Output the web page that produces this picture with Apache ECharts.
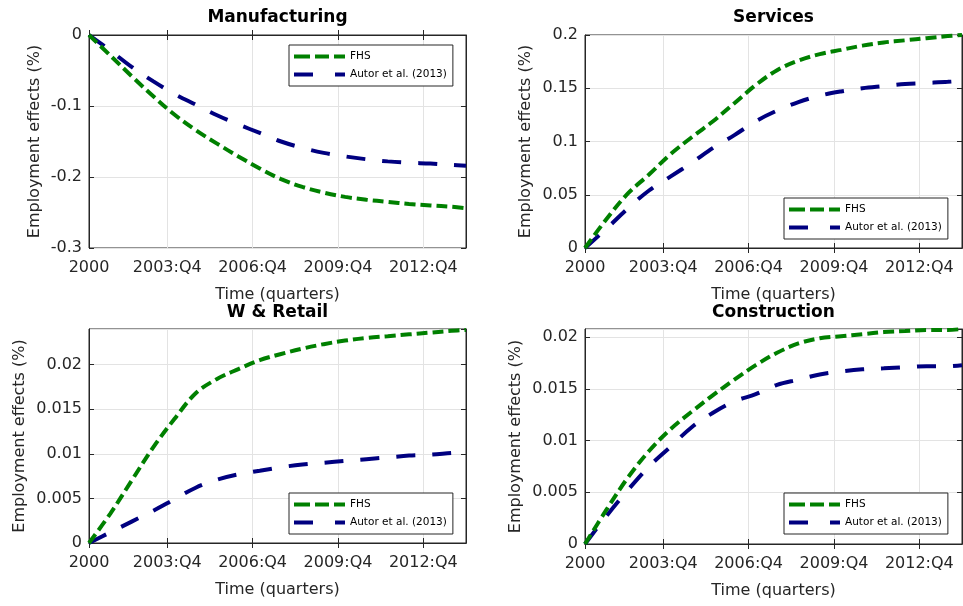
<!DOCTYPE html>
<html>
<head>
<meta charset="utf-8">
<script src="https://cdn.jsdelivr.net/npm/echarts@6/dist/echarts.min.js"></script>
<style>
html,body{margin:0;padding:0;background:#fff;}
#chart{width:963px;height:606px;}
</style>
</head>
<body>
<div id="chart"></div>
<script>
// quarter index of sampled points (0 = 2000)
const sampleQ = [0,3,6,9,12,15,18,21,24,27,30,33,36,39,42,45,48,51,53];
const nQuarters = 54;
const xTickIdx = [0,11,23,35,47];
const xTickLabels = ['2000','2003:Q4','2006:Q4','2009:Q4','2012:Q4'];
const seriesNames = ['FHS','Autor et al. (2013)'];
const panelTitles = ['Manufacturing','Services','W & Retail','Construction'];

const manuFHS   = [0,-0.029,-0.058,-0.086,-0.112,-0.134,-0.153,-0.171,-0.188,-0.203,-0.214,-0.222,-0.228,-0.232,-0.235,-0.238,-0.240,-0.242,-0.244];
const manuAutor = [0,-0.022,-0.045,-0.065,-0.083,-0.098,-0.113,-0.126,-0.138,-0.150,-0.159,-0.166,-0.171,-0.175,-0.178,-0.180,-0.181,-0.183,-0.184];
const servFHS   = [0,0.027,0.051,0.069,0.088,0.104,0.119,0.136,0.153,0.167,0.176,0.182,0.186,0.190,0.193,0.195,0.197,0.199,0.200];
const servAutor = [0,0.018,0.037,0.054,0.067,0.080,0.094,0.106,0.119,0.129,0.137,0.143,0.147,0.150,0.152,0.154,0.155,0.156,0.157];
const retFHS    = [0,0.0033,0.0070,0.0107,0.0139,0.0168,0.0184,0.0195,0.0205,0.0212,0.0218,0.0223,0.0227,0.0230,0.0232,0.0234,0.0236,0.0238,0.0239];
const retAutor  = [0,0.0012,0.0024,0.0036,0.0049,0.0062,0.0071,0.0077,0.0081,0.0085,0.0088,0.0090,0.0092,0.0094,0.0096,0.0098,0.0099,0.0101,0.0102];
const consFHS   = [0,0.0033,0.0064,0.0090,0.0111,0.0128,0.0144,0.0159,0.0173,0.0185,0.0194,0.0199,0.0201,0.0203,0.0205,0.0206,0.0207,0.0207,0.0208];
const consAutor = [0,0.0027,0.0052,0.0075,0.0094,0.0113,0.0127,0.0138,0.0145,0.0154,0.0159,0.0164,0.0167,0.0169,0.0170,0.0171,0.0172,0.0172,0.0173];

const yMin = [-0.3, 0, 0, 0];
const yMax = [0, 0.2, 0.024, 0.0208];
const yInterval = [0.1, 0.05, 0.005, 0.005];
const panelData = [[manuFHS, manuAutor],[servFHS, servAutor],[retFHS, retAutor],[consFHS, consAutor]];

const FONT = 'DejaVu Sans';
const TXT = '#262626';
const GRIDC = '#e3e3e3';
const categories = Array.from({length: nQuarters}, (_, i) => String(i));

const grids = [
  {left: 89, top: 35, width: 377, height: 213},
  {left: 585, top: 35, width: 377, height: 213},
  {left: 89, top: 329, width: 377, height: 214},
  {left: 585, top: 329, width: 377, height: 215}
];
const yNameGap = [46, 51, 61, 61];
const legendPos = [
  {left: 289, top: 45},
  {left: 784, top: 198},
  {left: 289, top: 493},
  {left: 784, top: 493}
];
const titleTop = [9, 9, 304, 304];

// legend icons drawn as dashed strokes (filled rectangles)
const legendIcons = [
  'path://M0,0h16v4h-16z M21,0h14v4h-14z M40,0h11v4h-11z',
  'path://M0,0h19v4h-19z M41,0h10v4h-10z'
];

const isTick = (idx) => xTickIdx.indexOf(idx) >= 0;

const xAxes = [];
const yAxes = [];
grids.forEach((g, i) => {
  xAxes.push({
    type: 'category', gridIndex: i, data: categories, boundaryGap: false, position: 'bottom',
    name: 'Time (quarters)', nameLocation: 'middle', nameGap: 39,
    nameTextStyle: {fontFamily: FONT, fontSize: 16, color: TXT},
    axisLine: {lineStyle: {color: TXT, width: 1}},
    axisTick: {inside: true, length: 5, interval: isTick, lineStyle: {color: TXT}},
    axisLabel: {interval: isTick, margin: 12, fontFamily: FONT, fontSize: 16, color: TXT,
      formatter: (v) => { const k = xTickIdx.indexOf(Number(v)); return k >= 0 ? xTickLabels[k] : ''; }},
    splitLine: {show: true, interval: isTick, lineStyle: {color: GRIDC, width: 1}}
  });
  yAxes.push({
    type: 'value', gridIndex: i, min: yMin[i], max: yMax[i], interval: yInterval[i], position: 'left',
    name: 'Employment effects (%)', nameLocation: 'middle', nameGap: yNameGap[i],
    nameTextStyle: {fontFamily: FONT, fontSize: 16, color: TXT},
    axisLine: {show: true, lineStyle: {color: TXT, width: 1}},
    axisTick: {show: true, inside: true, length: 5, lineStyle: {color: TXT}},
    axisLabel: {margin: 7, fontFamily: FONT, fontSize: 16, color: TXT, showMaxLabel: i < 2},
    splitLine: {show: true, lineStyle: {color: GRIDC, width: 1}}
  });
});
// mirrored tick marks on top and right edges (box on)
grids.forEach((g, i) => {
  xAxes.push({
    type: 'category', gridIndex: i, data: categories, boundaryGap: false, position: 'top',
    axisLine: {show: true, lineStyle: {color: TXT, width: 1}},
    axisTick: {inside: true, length: 5, interval: isTick, lineStyle: {color: TXT}},
    axisLabel: {show: false}, splitLine: {show: false}
  });
  yAxes.push({
    type: 'value', gridIndex: i, min: yMin[i], max: yMax[i], interval: yInterval[i], position: 'right',
    axisLine: {show: true, lineStyle: {color: TXT, width: 1}},
    axisTick: {show: true, inside: true, length: 5, lineStyle: {color: TXT}},
    axisLabel: {show: false}, splitLine: {show: false}
  });
});

const option = {
  animation: false,
  backgroundColor: '#fff',
  title: panelTitles.map((t, i) => ({
    text: t,
    left: grids[i].left + grids[i].width / 2,
    top: titleTop[i],
    textAlign: 'center',
    padding: 0,
    textStyle: {fontFamily: FONT, fontSize: 17, fontWeight: 'bold', color: '#000'}
  })),
  grid: grids.map(g => Object.assign({show: true, borderColor: TXT, borderWidth: 1, backgroundColor: '#fff', containLabel: false}, g)),
  legend: legendPos.map((p) => ({
    left: p.left, top: p.top,
    orient: 'vertical',
    data: seriesNames.map((n, k) => ({name: n, icon: legendIcons[k]})),
    itemWidth: 51, itemHeight: 4,
    itemGap: 7,
    padding: [6, 6, 6, 5],
    borderColor: TXT, borderWidth: 1,
    backgroundColor: '#fff',
    selectedMode: false,
    textStyle: {fontFamily: FONT, fontSize: 10.5, color: '#000'}
  })),
  xAxis: xAxes,
  yAxis: yAxes,
  series: []
};

const styles = [
  {color: '#008000', type: [11, 5]},
  {color: '#000080', type: [19, 17]}
];
panelData.forEach((pair, p) => {
  pair.forEach((vals, s) => {
    option.series.push({
      type: 'line', name: seriesNames[s],
      xAxisIndex: p, yAxisIndex: p,
      data: vals.map((v, k) => [String(sampleQ[k]), v]),
      smooth: 0.35,
      symbol: 'none',
      z: s === 0 ? 3 : 2,
      lineStyle: {color: styles[s].color, width: 4, type: styles[s].type, cap: 'butt'},
      itemStyle: {color: styles[s].color}
    });
  });
});

const chart = echarts.init(document.getElementById('chart'), null, {renderer: 'canvas'});
chart.setOption(option);
</script>
</body>
</html>
